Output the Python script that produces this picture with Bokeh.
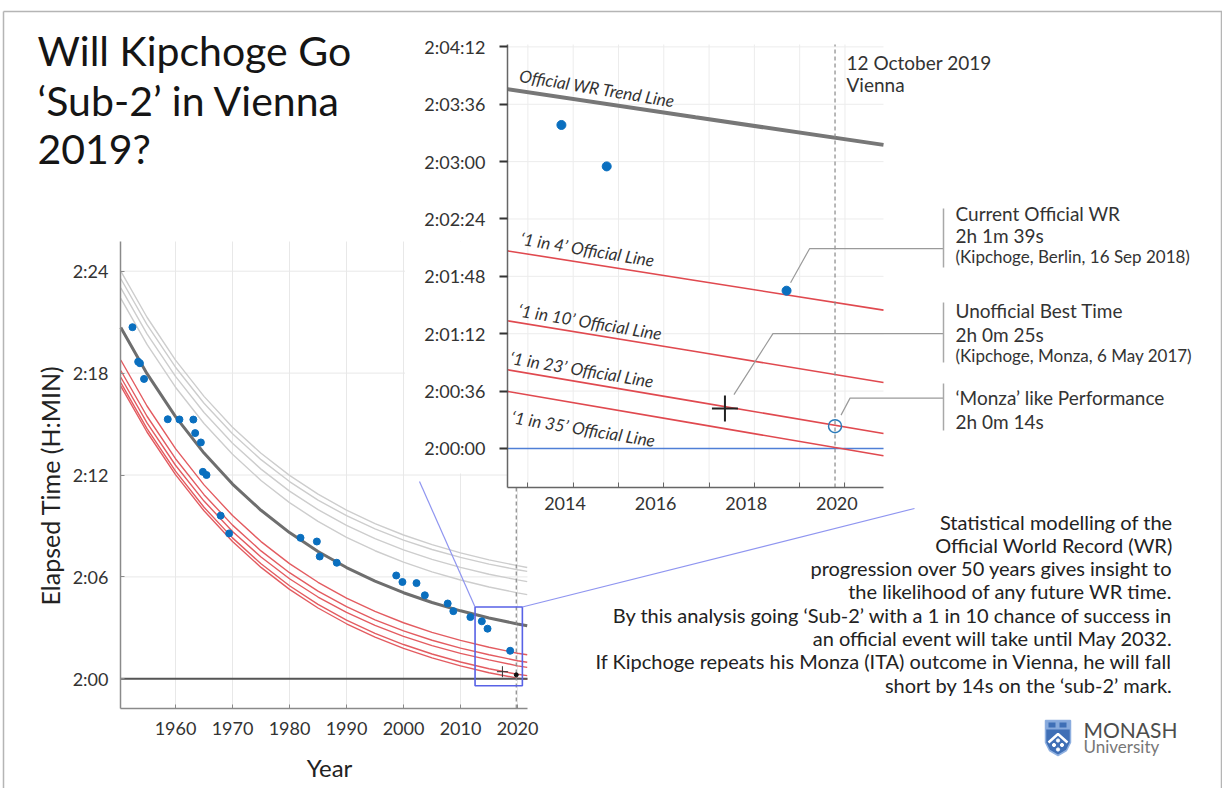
from bokeh.plotting import figure
from bokeh.models import Range1d, FixedTicker, LinearAxis, Label, CustomJSTickFormatter
from bokeh.embed import file_html
from bokeh.resources import INLINE
from bokeh.core.properties import value
import math

FONT = "Lato"
W, H = 1222, 788

# ---------------- data ----------------
curve_years = [1950.4, 1955, 1960, 1965, 1970, 1975, 1980, 1985, 1990, 1995, 2000, 2005, 2010, 2015, 2020, 2021.7]
# elapsed time in seconds
trend = [8441.3, 8277.9, 8126.2, 7997.4, 7888.1, 7795.3, 7716.6, 7649.8, 7593.1, 7545.0, 7504.1, 7469.5, 7440.1, 7415.0, 7393.8, 7387.4]
upper_a = [8640.3, 8477.4, 8326.1, 8197.8, 8089.0, 7996.7, 7918.5, 7852.2, 7796.0, 7748.4, 7708.0, 7673.9, 7645.0, 7620.3, 7599.6, 7593.4]
upper_b = [8613.3, 8451.2, 8300.9, 8173.5, 8065.6, 7974.2, 7896.9, 7831.5, 7776.2, 7729.5, 7690.0, 7656.8, 7628.8, 7605.1, 7585.3, 7579.4]
upper_c = [8581.3, 8418.9, 8268.4, 8140.7, 8032.5, 7940.8, 7863.2, 7797.6, 7742.0, 7695.0, 7655.2, 7621.8, 7593.5, 7569.5, 7549.4, 7543.4]
upper_d = [8544.3, 8381.4, 8230.1, 8101.8, 7993.0, 7900.7, 7822.5, 7756.2, 7700.0, 7652.4, 7612.0, 7577.9, 7549.0, 7524.3, 7503.6, 7497.4]
line_1in4 = [8326.3, 8163.8, 8013.0, 7885.1, 7776.6, 7684.7, 7606.9, 7541.0, 7485.2, 7438.0, 7397.9, 7364.2, 7335.7, 7311.5, 7290.3, 7284.9]
line_1in6 = [8289.3, 8127.6, 7977.6, 7850.5, 7742.9, 7651.8, 7574.8, 7509.6, 7454.6, 7408.2, 7369.0, 7336.1, 7308.4, 7285.0, 7263.8, 7258.4]
line_1in10 = [8265.3, 8104.1, 7954.5, 7827.9, 7720.7, 7630.1, 7553.5, 7488.9, 7434.3, 7388.4, 7349.6, 7317.2, 7289.9, 7267.0, 7245.8, 7240.4]
line_1in23 = [8246.3, 8084.1, 7933.6, 7806.0, 7697.9, 7606.3, 7528.8, 7463.1, 7407.6, 7360.7, 7321.0, 7287.6, 7259.4, 7235.5, 7215.8, 7211.0]
line_1in35 = [8234.3, 8071.9, 7921.3, 7793.5, 7685.3, 7593.5, 7515.8, 7450.1, 7394.4, 7347.3, 7307.5, 7273.9, 7245.6, 7221.5, 7202.3, 7197.9]

# inset (zoomed) lines, read at the inset's left edge, middle and right edge
inset_years = [2012.55, 2016.7, 2020.85]
inset_trend = [7425.5, 7407.8, 7390.5]
inset_1in4 = [7324.0, 7305.4, 7286.8]
inset_1in10 = [7280.1, 7260.8, 7241.4]
inset_1in23 = [7249.4, 7229.4, 7209.4]
inset_1in35 = [7235.8, 7215.6, 7195.4]

wr_years = [1952.45, 1953.45, 1953.76, 1954.48, 1958.64, 1960.69, 1963.13, 1963.45, 1964.45, 1964.80,
            1965.44, 1967.92, 1969.41, 1981.93, 1984.80, 1985.30, 1988.29, 1998.72, 1999.81, 2002.28,
            2003.74, 2007.75, 2008.74, 2011.73, 2013.74, 2014.74, 2018.71]
wr_times = [8442.2, 8320.4, 8314.8, 8259.4, 8117.0, 8116.2, 8115.8, 8068.0, 8035.0, 7931.2,
            7920.0, 7776.4, 7713.6, 7698.0, 7685.0, 7632.0, 7610.0, 7565.0, 7542.0, 7538.0,
            7495.0, 7466.0, 7439.0, 7418.0, 7403.0, 7377.0, 7299.0]

sub2 = 7200
monza_year, monza_time = [2017.35], [7225]
vienna_year, vienna_time = [2019.78], [7214]
current_wr_year, current_wr_time = 2018.71, 7299

main_xticks = [1960, 1970, 1980, 1990, 2000, 2010, 2020]
main_yticks = [7200, 7560, 7920, 8280, 8640]
main_ylabels = ["2:00", "2:06", "2:12", "2:18", "2:24"]
inset_xticks = [2013, 2014, 2015, 2016, 2017, 2018, 2019, 2020]
inset_xlabel_years = [2014, 2016, 2018, 2020]
inset_yticks = [7200, 7236, 7272, 7308, 7344, 7380, 7416, 7452]
inset_ylabels = ["2:00:00", "2:00:36", "2:01:12", "2:01:48", "2:02:24", "2:03:00", "2:03:36", "2:04:12"]

# ---------------- ranges / geometry (canvas pixels) ----------------
MX0, MX1, MY0, MY1 = 1950.35, 2021.75, 7095, 8745
IX0, IX1, IY0, IY1 = 2012.55, 2020.85, 7175.5, 7453.5
M_L, M_R, M_T, M_B = 120, 527, 241, 708
I_L, I_R, I_T, I_B = 507, 883, 44, 487
INSET_LABEL_SHIFT = -0.18   # the inset's year labels sit a little left of their ticks

def x_range_for(v0, v1, p0, p1):
    s = (v1 - v0) / (p1 - p0)
    return Range1d(v0 - p0 * s, v0 + (W - p0) * s)

def y_range_for(vbot, vtop, ptop, pbot):
    s = (vtop - vbot) / (pbot - ptop)
    return Range1d(vbot - (H - pbot) * s, vtop + ptop * s)

def ix(x): return I_L + (x - IX0) / (IX1 - IX0) * (I_R - I_L)
def iy(y): return I_B - (y - IY0) / (IY1 - IY0) * (I_B - I_T)
def mx(x): return M_L + (x - MX0) / (MX1 - MX0) * (M_R - M_L)
def my(y): return M_B - (y - MY0) / (MY1 - MY0) * (M_B - M_T)

GREY = "#cdcdcd"
RED = "#e0494f"
DARK = "#6e6e6e"
BLUE = "#0a6fbf"

p = figure(width=W, height=H, x_range=Range1d(0, W), y_range=Range1d(H, 0), min_border=0,
           x_axis_location=None, y_axis_location=None, toolbar_location=None,
           output_backend="svg")
p.outline_line_color = None
p.background_fill_color = "white"
p.border_fill_color = "white"
p.grid.visible = False
p.extra_x_ranges = {"mx": x_range_for(MX0, MX1, M_L, M_R), "ix": x_range_for(IX0, IX1, I_L, I_R)}
p.extra_y_ranges = {"my": y_range_for(MY0, MY1, M_T, M_B), "iy": y_range_for(IY0, IY1, I_T, I_B)}
M = dict(x_range_name="mx", y_range_name="my")
I = dict(x_range_name="ix", y_range_name="iy")

def add_axis(side, names, loc, bounds, ticks, overrides, size, line_color, tick_in, tick_out,
             tick_width, tick_color, standoff):
    ax = LinearAxis(fixed_location=loc, bounds=bounds, ticker=FixedTicker(ticks=ticks), **names)
    if overrides:
        ax.major_label_overrides = overrides
    ax.axis_line_color = line_color
    ax.axis_line_width = 1.5
    ax.major_tick_in = tick_in
    ax.major_tick_out = tick_out
    ax.major_tick_line_width = tick_width
    ax.major_tick_line_color = tick_color
    ax.minor_tick_line_color = None
    ax.major_label_text_font = FONT
    ax.major_label_text_font_size = size
    ax.major_label_text_color = "#333333"
    ax.major_label_standoff = standoff
    p.add_layout(ax, side)
    return ax

# ---------------- main chart ----------------
nx, ny = len(main_xticks), len(main_yticks)
p.segment(x0=main_xticks, y0=[MY0] * nx, x1=main_xticks, y1=[MY1] * nx,
          line_color="#e8e8e8", line_width=1, **M)
p.segment(x0=[MX0] * ny, y0=main_yticks, x1=[MX1] * ny, y1=main_yticks,
          line_color="#e8e8e8", line_width=1, **M)
for ser in (upper_a, upper_b, upper_c, upper_d):
    p.line(curve_years, ser, line_color=GREY, line_width=1.4, **M)
for ser in (line_1in4, line_1in6, line_1in10, line_1in23, line_1in35):
    p.line(curve_years, ser, line_color=RED, line_width=1.4, line_alpha=0.9, **M)
p.line(curve_years, trend, line_color=DARK, line_width=3, **M)
p.segment(x0=[MX0], y0=[sub2], x1=[MX1], y1=[sub2], line_color="#555555", line_width=2, **M)
p.segment(x0=vienna_year, y0=[MY0], x1=vienna_year, y1=[MY1], line_color="#888888",
          line_width=1.2, line_dash="4 3", **M)
p.scatter(wr_years, wr_times, size=7, color=BLUE, **M)
p.scatter(monza_year, monza_time, marker="cross", size=11, line_color="#333333", line_width=1, **M)
p.scatter(vienna_year, vienna_time, size=4, color="#111111", **M)
p.quad(left=[IX0], right=[IX1], bottom=[IY0], top=[IY1], fill_alpha=0,
       line_color="#5862e6", line_width=1.6, **M)
# white area behind the inset's labels
p.quad(left=[2000.25], right=[MX1], bottom=[7925], top=[MY1], fill_color="white",
       line_color=None, **M)
add_axis("below", M, MY0, (MX0, MX1), main_xticks, None, "18px", "#8a8a8a", 4, 0, 1, "#8a8a8a", 13)
add_axis("left", M, MX0, (MY0, MY1), main_yticks, dict(zip(main_yticks, main_ylabels)),
         "18px", "#8a8a8a", 4, 0, 1, "#8a8a8a", 12)

# ---------------- inset ----------------
p.quad(left=[IX0], right=[IX1], bottom=[IY0], top=[IY1], fill_color="white", line_color=None, **I)
nx, ny = len(inset_xticks), len(inset_yticks)
p.segment(x0=inset_xticks, y0=[IY0] * nx, x1=inset_xticks, y1=[IY1] * nx,
          line_color="#ececec", line_width=1, **I)
p.segment(x0=[IX0] * ny, y0=inset_yticks, x1=[IX1] * ny, y1=inset_yticks,
          line_color="#ececec", line_width=1, **I)
p.segment(x0=[IX0], y0=[sub2], x1=[IX1], y1=[sub2], line_color="#4f7fd6", line_width=1.5, **I)
for ser in (inset_1in4, inset_1in10, inset_1in23, inset_1in35):
    p.line(inset_years, ser, line_color=RED, line_width=1.6, **I)
p.line(inset_years, inset_trend, line_color="#777777", line_width=4, **I)
p.segment(x0=vienna_year, y0=[IY0], x1=vienna_year, y1=[IY1], line_color="#888888",
          line_width=1.2, line_dash="4 3", **I)
sel = [i for i, (x, y) in enumerate(zip(wr_years, wr_times)) if IX0 <= x <= IX1 and IY0 <= y <= IY1]
p.scatter([wr_years[i] for i in sel], [wr_times[i] for i in sel], size=9, color=BLUE, **I)
p.scatter(monza_year, monza_time, marker="cross", size=26, line_color="#222222", line_width=2, **I)
p.scatter(vienna_year, vienna_time, size=13, fill_color=None, line_color="#2b7bba", line_width=1.5, **I)
# inset x axis: ticks every year (no labels) + year labels
ax_ix = add_axis("below", I, IY0, (IX0, IX1), inset_xticks, None, "18px", "#666666", 5, 0, 1,
                 "#666666", 9)
ax_ix.major_label_text_alpha = 0
ax_lbl = add_axis("below", I, IY0, (IX0, IX1), [y + INSET_LABEL_SHIFT for y in inset_xlabel_years],
                  None, "18px", None, 0, 0, 1, None, 9)
ax_lbl.formatter = CustomJSTickFormatter(code="return String(Math.round(tick));")
add_axis("left", I, IX0, (IY0, IY1), inset_yticks, dict(zip(inset_yticks, inset_ylabels)),
         "18px", "#666666", 0, 8, 2, "#333333", 14)

def interp(x, xs, ys):
    for k in range(len(xs) - 1):
        if xs[k] <= x <= xs[k + 1]:
            return ys[k] + (ys[k + 1] - ys[k]) * (x - xs[k]) / (xs[k + 1] - xs[k])
    return ys[0]

def line_label(text, x, ser, dy, base):
    p.add_layout(Label(x=x, y=interp(x, inset_years, ser), y_offset=dy, text=text,
                       angle=-0.165, text_font=FONT, text_font_size="17px",
                       text_font_style="italic", text_color="#333333",
                       text_baseline=base, text_align="left", **I))

line_label("Official WR Trend Line", 2012.78, inset_trend, 5, "bottom")
line_label("‘1 in 4’ Official Line", 2012.80, inset_1in4, 4, "bottom")
line_label("‘1 in 10’ Official Line", 2012.75, inset_1in10, 2, "bottom")
line_label("‘1 in 23’ Official Line", 2012.57, inset_1in23, 2, "bottom")
line_label("‘1 in 35’ Official Line", 2012.68, inset_1in35, -14, "top")

# ---------------- decoration (canvas pixels) ----------------
p.multi_line(xs=[[3, W], [3, 3], [W - 1, W - 1]], ys=[[11, 11], [11, H], [11, H]],
             line_color="#b5b5b5", line_width=1.5)

p.text(x=[37, 37, 37], y=[50, 100, 148], text=["Will Kipchoge Go", "‘Sub-2’ in Vienna", "2019?"],
       text_font=value(FONT), text_font_size="41px", text_color="#151515",
       text_baseline="middle", text_align="left")

# axis titles of the main chart
p.text(x=[329], y=[767], text=["Year"], text_font=value(FONT), text_font_size="24px",
       text_color="#222222", text_baseline="middle", text_align="center")
p.text(x=[49], y=[485], text=["Elapsed Time (H:MIN)"], angle=math.pi / 2, text_font=value(FONT),
       text_font_size="25px", text_color="#222222", text_baseline="middle", text_align="center")

# connectors from the zoom box to the inset
p.multi_line(xs=[[mx(IX0), 419], [mx(IX1), 914]], ys=[[my(IY1), 481], [my(IY1), 508]],
             line_color="#8f95f0", line_width=1.2)

p.text(x=[846, 846], y=[62, 84], text=["12 October 2019", "Vienna"], text_font=value(FONT),
       text_font_size="19px", text_color="#333333", text_baseline="middle", text_align="left")

BAR_X = 943
wx, wy = ix(current_wr_year), iy(current_wr_time)
mzx, mzy = ix(monza_year[0]), iy(monza_time[0])
vx, vy = ix(vienna_year[0]), iy(vienna_time[0])
p.multi_line(
    xs=[[wx + 4, wx + 23, BAR_X], [mzx + 9, mzx + 48, BAR_X], [vx + 6, vx + 15, BAR_X]],
    ys=[[wy - 8, wy - 42, wy - 42], [mzy - 14, mzy - 75, mzy - 75], [vy - 11, vy - 28, vy - 28]],
    line_color="#9a9a9a", line_width=1.2)
p.multi_line(xs=[[BAR_X, BAR_X]] * 3, ys=[[208, 267], [302, 362], [383, 430]],
             line_color="#a8a8a8", line_width=1.5)
p.text(x=[955] * 6, y=[213, 235, 310, 334, 397, 421],
       text=["Current Official WR", "2h 1m 39s", "Unofficial Best Time", "2h 0m 25s",
             "‘Monza’ like Performance", "2h 0m 14s"],
       text_font=value(FONT), text_font_size="19px", text_color="#333333",
       text_baseline="middle", text_align="left")
p.text(x=[955, 955], y=[256, 355],
       text=["(Kipchoge, Berlin, 16 Sep 2018)", "(Kipchoge, Monza, 6 May 2017)"],
       text_font=value(FONT), text_font_size="17px", text_color="#333333",
       text_baseline="middle", text_align="left")

para = ["Statistical modelling of the",
        "Official World Record (WR)",
        "progression over 50 years gives insight to",
        "the likelihood of any future WR time.",
        "By this analysis going ‘Sub-2’ with a 1 in 10 chance of success in",
        "an official event will take until May 2032.",
        "If Kipchoge repeats his Monza (ITA) outcome in Vienna, he will fall",
        "short by 14s on the ‘sub-2’ mark."]
p.text(x=[1172] * len(para), y=[521 + 23.3 * i for i in range(len(para))], text=para,
       text_font=value(FONT), text_font_size="20px", text_color="#222222",
       text_baseline="middle", text_align="right")

# logo
p.patch([1045, 1070, 1070, 1066, 1057.5, 1049, 1045], [720, 720, 742, 750, 755, 750, 742],
        fill_color="#3f6fb6", line_color="#8fb0e0", line_width=1.5)
p.quad(left=[1045], right=[1070], top=[720], bottom=[729], fill_color="#86a9dc", line_color=None)
p.quad(left=[1048, 1059], right=[1055, 1066], top=[722, 722], bottom=[727, 727],
       fill_color="#3f6fb6", line_color=None)
p.line([1048, 1057.5, 1067], [742, 733.5, 742], line_color="white", line_width=2.5)
p.scatter([1053.5, 1061.5, 1057.5, 1057.5], [744.5, 744.5, 749, 740], size=3.2, color="white")
p.text(x=[1083], y=[729], text=["MONASH"], text_font=value(FONT), text_font_size="21px",
       text_color="#4d4d4d", text_baseline="middle", text_align="left")
p.text(x=[1083], y=[746], text=["University"], text_font=value(FONT), text_font_size="17px",
       text_color="#777777", text_baseline="middle", text_align="left")

open("out.html", "w").write(file_html(p, INLINE))
